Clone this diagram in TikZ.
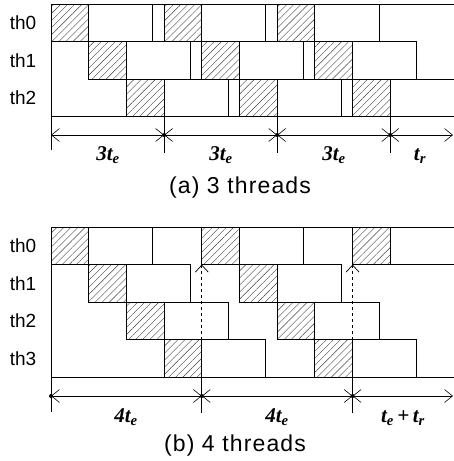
\documentclass[tikz,border=0pt]{standalone}
\usepackage{fontspec}
\setmainfont{Liberation Sans}
\newfontfamily\labfont{Liberation Serif}
\newfontfamily\capfont[LetterSpace=5]{Liberation Sans}
\usetikzlibrary{arrows.meta, patterns.meta}

\tikzset{
  task/.style={draw, line width=0.9pt, pattern={Lines[angle=45, distance=5pt, line width=0.4pt]}, pattern color=black!75},
  work/.style={draw, line width=0.9pt, fill=white},
  frame/.style={line width=0.7pt},
  dimline/.style={line width=0.6pt, {Straight Barb[length=8pt, width=13pt]}-{Straight Barb[length=8pt, width=13pt]}},
  waitline/.style={line width=0.7pt, dashed, -{Straight Barb[length=7pt, width=13pt]}},
  thlab/.style={font=\fontsize{19}{21}\selectfont},
  dimlab/.style={font=\fontsize{21}{23}\selectfont\labfont\bfseries\itshape, anchor=base},
  caplab/.style={font=\fontsize{23}{25}\selectfont\capfont, anchor=base}
}
\newcommand\tsub[2]{#1\textsubscript{#2}}

\begin{document}
\begin{tikzpicture}[x=1pt, y=-1pt]
  \useasboundingbox (0,0) rectangle (454,461);

  \def\xo{51}
  \def\te{37.7}
  \def\rh{37.6}

  % (a) 3 threads
  \def\ya{4}
  \draw[frame] (\xo,\ya) -- (454,\ya);
  \foreach \n in {0,...,8}{
    \pgfmathtruncatemacro{\i}{mod(\n,3)}
    \pgfmathsetmacro{\xs}{\xo+\n*\te}
    \pgfmathsetmacro{\yt}{\ya+\i*\rh}
    \draw[task] (\xs,\yt) rectangle ++(\te,\rh);
    \draw[work] (\xs+\te,\yt) rectangle ++(1.7*\te,\rh);
    \ifnum\n<6
      \draw[work] (\xs+2.7*\te,\yt) rectangle ++(0.3*\te,\rh);
    \fi
  }
  \draw[frame] (\xo,\ya+3*\rh) -- (454,\ya+3*\rh);
  \draw[frame] (\xo,\ya) -- (\xo,150);
  \foreach \i in {0,1,2}
    \node[thlab] (a-th\i) at (23,\ya+\i*\rh+\rh/2) {th\i};

  % time axis (a)
  \coordinate (a-t0) at (\xo,135);
  \foreach \j in {1,2,3}{
    \coordinate (a-t\j) at (\xo+3*\j*\te,135);
    \draw[frame] (\xo+3*\j*\te,\ya+3*\rh) -- (\xo+3*\j*\te,153);
  }
  \coordinate (a-end) at (453,135);
  \draw[dimline] (a-t0) -- (a-t1);
  \draw[dimline] (a-t1) -- (a-t2);
  \draw[dimline] (a-t2) -- (a-t3);
  \draw[dimline] (a-t3) -- (a-end);
  \foreach \j in {1,2,3}
    \fill (a-t\j) circle (2pt);

  \node[dimlab] (a-l1) at (108,160) {\tsub{3t}{e}};
  \node[dimlab] (a-l2) at (221,160) {\tsub{3t}{e}};
  \node[dimlab] (a-l3) at (334,160) {\tsub{3t}{e}};
  \node[dimlab] (a-l4) at (420,160) {\tsub{t}{r}};
  \node[caplab] (a-cap) at (240,193) {(a) 3 threads};

  % (b) 4 threads
  \def\yb{227}
  \draw[frame] (\xo,\yb) -- (454,\yb);
  \foreach \n in {0,...,8}{
    \pgfmathtruncatemacro{\i}{mod(\n,4)}
    \pgfmathsetmacro{\xs}{\xo+\n*\te}
    \pgfmathsetmacro{\yt}{\yb+\i*\rh}
    \draw[task] (\xs,\yt) rectangle ++(\te,\rh);
    \draw[work] (\xs+\te,\yt) rectangle ++(1.7*\te,\rh);
  }
  \draw[frame] (\xo,\yb+4*\rh) -- (454,\yb+4*\rh);
  \draw[frame] (\xo,\yb) -- (\xo,412);
  \foreach \i in {0,1,2,3}
    \node[thlab] (b-th\i) at (23,\yb+\i*\rh+\rh/2) {th\i};

  % waiting for th0
  \foreach \j in {1,2}{
    \coordinate (b-w\j) at (\xo+4*\j*\te,\yb+3*\rh);
    \coordinate (b-r\j) at (\xo+4*\j*\te,\yb+\rh);
    \draw[waitline] (b-w\j) -- (b-r\j);
  }

  % time axis (b)
  \coordinate (b-t0) at (\xo,396);
  \foreach \j in {1,2}{
    \coordinate (b-t\j) at (\xo+4*\j*\te,396);
    \draw[frame] (\xo+4*\j*\te,\yb+4*\rh) -- (\xo+4*\j*\te,413);
  }
  \coordinate (b-end) at (453,396);
  \draw[dimline] (b-t0) -- (b-t1);
  \draw[dimline] (b-t1) -- (b-t2);
  \draw[dimline] (b-t2) -- (b-end);
  \foreach \j in {0,1,2}
    \fill (b-t\j) circle (2pt);

  \node[dimlab] (b-l1) at (126,422) {\tsub{4t}{e}};
  \node[dimlab] (b-l2) at (277,422) {\tsub{4t}{e}};
  \node[dimlab] (b-l3) at (403,422) {\tsub{t}{e}\,+\,\tsub{t}{r}};
  \node[caplab] (b-cap) at (235,451) {(b) 4 threads};

\end{tikzpicture}
\end{document}
